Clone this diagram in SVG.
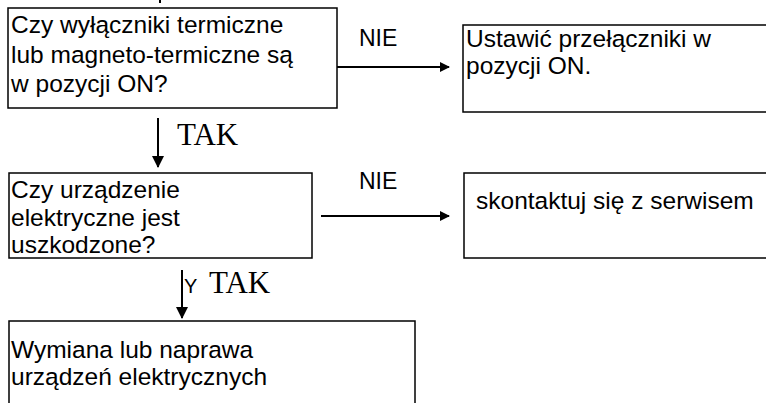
<svg xmlns="http://www.w3.org/2000/svg" width="766" height="403" viewBox="0 0 766 403">
<style>
.box{fill:#fff;stroke:#000;stroke-width:1.5}
.t{font-family:"Liberation Sans",Arial,sans-serif;font-size:24.5px;fill:#000}
.l{font-family:"Liberation Sans",Arial,sans-serif;font-size:23px;fill:#000}
.s{font-family:"Liberation Serif","Times New Roman",serif;font-size:31px;fill:#000}
.c{stroke:#000;stroke-width:2;fill:none}
</style>
<defs>
<marker id="ah" markerWidth="10" markerHeight="10" refX="9" refY="5" orient="auto" markerUnits="userSpaceOnUse">
<path d="M0,0 L10,5 L0,10 Z" fill="#000"/>
</marker>
<marker id="ahv" markerWidth="12" markerHeight="12" refX="11" refY="6" orient="auto" markerUnits="userSpaceOnUse">
<path d="M0,0 L12,6 L0,12 Z" fill="#000"/>
</marker>
</defs>
<rect width="766" height="403" fill="#fff"/>
<g id="connectors">
<line class="c" x1="160" y1="0" x2="160" y2="3"/>
<line class="c" x1="321" y1="67" x2="449" y2="67" marker-end="url(#ah)"/>
<line class="c" x1="321" y1="216" x2="449" y2="216" marker-end="url(#ah)"/>
<line class="c" x1="158" y1="118" x2="158" y2="167" marker-end="url(#ahv)"/>
<line class="c" x1="182" y1="270" x2="182" y2="318" marker-end="url(#ahv)"/>
<text class="l" x="359" y="46">NIE</text>
<text class="l" x="359" y="189">NIE</text>
<text class="s" x="177" y="145">TAK</text>
<text class="l" x="184" y="293" style="font-size:20px">Y</text>
<text class="s" x="209" y="293">TAK</text>
</g>
<g id="n1">
<rect class="box" x="8" y="8" width="329" height="100"/>
<text class="t" x="11" y="33">Czy wyłączniki termiczne</text>
<text class="t" x="11" y="63">lub magneto-termiczne są</text>
<text class="t" x="11" y="92">w pozycji ON?</text>
</g>
<g id="n2">
<rect class="box" x="463" y="25" width="320" height="87"/>
<text class="t" x="466" y="47">Ustawić przełączniki w</text>
<text class="t" x="466" y="74">pozycji ON.</text>
</g>
<g id="n3">
<rect class="box" x="9" y="173" width="303" height="85"/>
<text class="t" x="11" y="198">Czy urządzenie</text>
<text class="t" x="11" y="226">elektryczne jest</text>
<text class="t" x="11" y="253">uszkodzone?</text>
</g>
<g id="n4">
<rect class="box" x="464" y="173" width="320" height="85"/>
<text class="t" x="476" y="209">skontaktuj się z serwisem</text>
</g>
<g id="n5">
<rect class="box" x="9" y="321" width="406" height="100"/>
<text class="t" x="11" y="358">Wymiana lub naprawa</text>
<text class="t" x="11" y="385">urządzeń elektrycznych</text>
</g>
</svg>
